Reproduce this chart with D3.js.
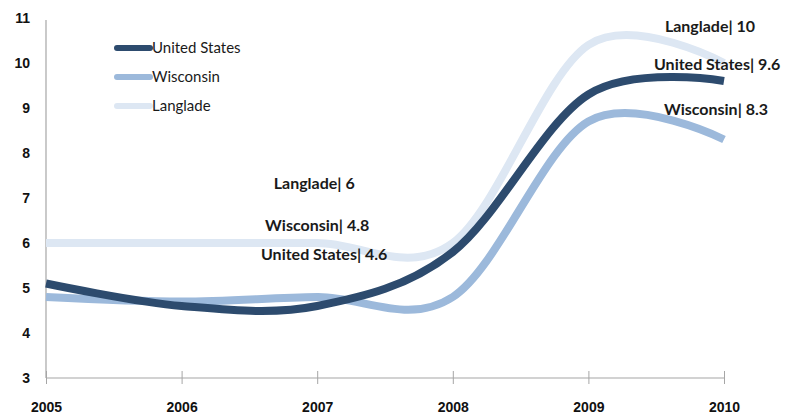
<!DOCTYPE html>
<html>
<head>
<meta charset="utf-8">
<script src="https://cdn.jsdelivr.net/npm/d3@7"></script>
<style>
  body { margin: 0; background: #fff; }
  svg { font-family: Lato, "Open Sans", sans-serif; }
  .tick-label { font-size: 14px; font-weight: bold; fill: #111; }
  .data-label { font-size: 16px; font-weight: bold; fill: #1a1a1a; }
  .legend-label { font-size: 15px; fill: #1a1a1a; }
</style>
</head>
<body>
<svg id="chart" width="791" height="414"></svg>
<script>
// chart values
var years = [2005, 2006, 2007, 2008, 2009, 2010];
var us_values = [5.1, 4.6, 4.6, 5.8, 9.3, 9.6];
var wi_values = [4.8, 4.7, 4.8, 4.8, 8.7, 8.3];
var langlade_values = [6.0, 6.0, 6.0, 6.0, 10.4, 10.0];
var series_names = ['United States', 'Wisconsin', 'Langlade'];
var y_ticks = [3, 4, 5, 6, 7, 8, 9, 10, 11];

var colors = { 'United States': '#2d4b6e', 'Wisconsin': '#9cb9db', 'Langlade': '#dde7f3' };

var svg = d3.select('#chart');
var margin = { top: 18, right: 67, bottom: 36, left: 46 };
var width = 791 - margin.left - margin.right;
var height = 414 - margin.top - margin.bottom;

var x_scale = d3.scaleLinear().domain([2005, 2010]).range([margin.left, margin.left + width]);
var y_scale = d3.scaleLinear().domain([3, 11]).range([margin.top + height, margin.top]);

var series = [
  { name: 'Langlade', values: langlade_values },
  { name: 'Wisconsin', values: wi_values },
  { name: 'United States', values: us_values }
];

// y axis: line only, labels on left
var yAxis = d3.axisLeft(y_scale).tickValues(y_ticks).tickSize(0).tickPadding(16);
var yAxis_g = svg.append('g').attr('transform', 'translate(' + margin.left + ',0)').call(yAxis);
yAxis_g.select('.domain').attr('stroke', '#a6a6a6').attr('stroke-width', 1.2)
  .attr('d', 'M0,' + (margin.top + 2) + 'V' + (margin.top + height));
yAxis_g.selectAll('text').attr('class', 'tick-label').attr('font-family', null).attr('font-size', null);

// x axis with crossing ticks
var xAxis = d3.axisBottom(x_scale).tickValues(years).tickFormat(d3.format('d')).tickSize(6).tickPadding(18);
var xAxis_g = svg.append('g').attr('transform', 'translate(0,' + (margin.top + height) + ')').call(xAxis);
xAxis_g.select('.domain').attr('stroke', '#a6a6a6').attr('stroke-width', 1.2)
  .attr('d', 'M' + margin.left + ',0H' + (margin.left + width));
xAxis_g.selectAll('.tick line').attr('stroke', '#a6a6a6').attr('y1', -7).attr('y2', 6);
xAxis_g.selectAll('text').attr('class', 'tick-label').attr('font-family', null).attr('font-size', null);

// smooth lines
var line = d3.line()
  .x(function(d, i) { return x_scale(years[i]); })
  .y(function(d) { return y_scale(d); })
  .curve(d3.curveCardinal.tension(0));

svg.append('g').selectAll('path.series')
  .data(series)
  .enter().append('path')
  .attr('class', 'series')
  .attr('d', function(d) { return line(d.values); })
  .attr('fill', 'none')
  .attr('stroke', function(d) { return colors[d.name]; })
  .attr('stroke-width', 8);

// legend
var legend = svg.append('g').attr('transform', 'translate(115,48)');
series_names.forEach(function(name, i) {
  var row = legend.append('g').attr('transform', 'translate(0,' + (i * 29) + ')');
  row.append('line').attr('x1', 2).attr('x2', 35).attr('y1', 0).attr('y2', 0)
    .attr('stroke', colors[name]).attr('stroke-width', 6).attr('stroke-linecap', 'round');
  row.append('text').attr('class', 'legend-label').attr('x', 37).attr('y', 0)
    .attr('dy', '0.35em').text(name);
});

// data labels
var labels = [
  { name: 'Langlade', values: langlade_values, i: 2, dx: -3, y: 183, anchor: 'middle' },
  { name: 'Wisconsin', values: wi_values, i: 2, dx: 0, y: 225, anchor: 'middle' },
  { name: 'United States', values: us_values, i: 2, dx: 7, y: 254, anchor: 'middle' },
  { name: 'Langlade', values: langlade_values, i: 5, dx: -14, y: 26, anchor: 'middle' },
  { name: 'United States', values: us_values, i: 5, dx: -70, y: 64, anchor: 'start' },
  { name: 'Wisconsin', values: wi_values, i: 5, dx: -8, y: 109, anchor: 'middle' }
];
svg.append('g').selectAll('text')
  .data(labels)
  .enter().append('text')
  .attr('class', 'data-label')
  .attr('x', function(d) { return x_scale(years[d.i]) + d.dx; })
  .attr('y', function(d) { return d.y; })
  .attr('dy', '0.35em')
  .attr('text-anchor', function(d) { return d.anchor; })
  .text(function(d) { return d.name + '| ' + d3.format('')(d.values[d.i]); });
</script>
</body>
</html>
